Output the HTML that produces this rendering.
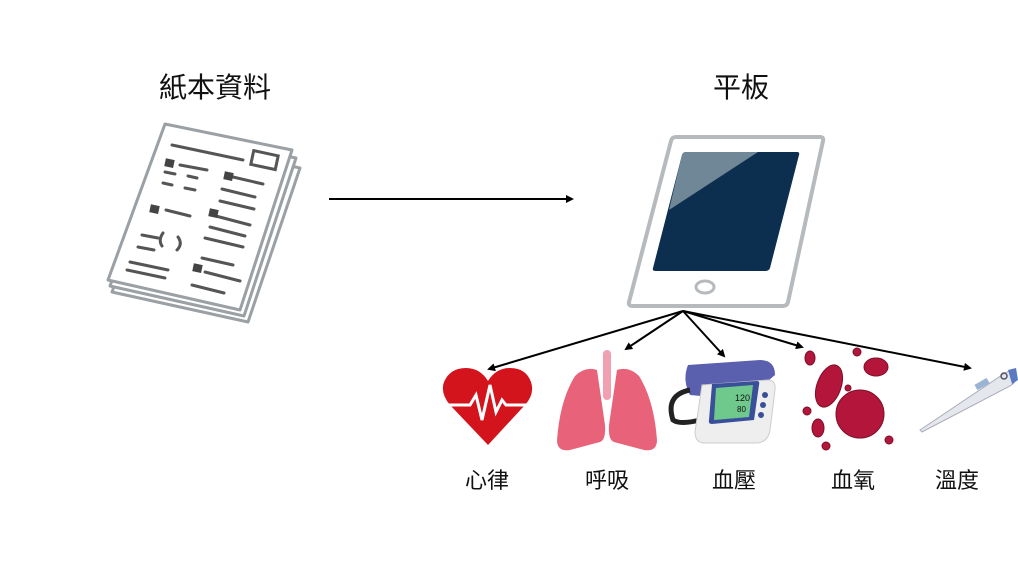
<!DOCTYPE html>
<html><head><meta charset="utf-8"><style>
html,body{margin:0;padding:0;background:#fff;width:1018px;height:573px;overflow:hidden}
svg text{font-family:"Liberation Sans","Noto Sans CJK TC",sans-serif;fill:#111}
</style></head><body>
<svg width="1018" height="573" viewBox="0 0 1018 573" xmlns="http://www.w3.org/2000/svg">
<defs><marker id="ah" markerWidth="8" markerHeight="8" refX="6" refY="4" orient="auto" markerUnits="userSpaceOnUse"><path d="M0,0 L8,4 L0,8 z" fill="#000"/></marker></defs>
<text x="215" y="97" font-size="28" text-anchor="middle">紙本資料</text>
<text x="741" y="97" font-size="28" text-anchor="middle">平板</text>
<line x1="329" y1="199" x2="572" y2="199" stroke="#000" stroke-width="2" marker-end="url(#ah)"/>
<!-- paper -->
<g stroke="#9aa0a4" stroke-width="3" fill="#fff" stroke-linejoin="round">
<path d="M170,140 L300,168 L248,322 L112,292 Z"/>
<path d="M167,132 L296,158 L244,316 L110,286 Z"/>
<path d="M165,124 L292,150 L240,310 L108,280 Z"/>
</g>
<g stroke="#555" stroke-width="3" fill="none" stroke-linecap="round">
<path d="M172,145 L243,160"/><rect x="252" y="153" width="25" height="14" transform="rotate(12 264 160)" stroke="#555"/>
<path d="M180,165 L207,170"/><path d="M165,172 L175,174 M188,176 L197,178"/><path d="M163,183 L172,185 M185,188 L195,190"/>
<path d="M233,177 L263,184"/><path d="M222,189 L255,197"/><path d="M220,201 L254,209"/>
<path d="M166,210 L190,216"/><path d="M212,215 L250,225"/><path d="M210,227 L245,236"/><path d="M205,238 L243,247"/>
<path d="M142,235 L158,238 M138,247 L154,250"/><path d="M163,233 Q158,240 162,246 M178,237 Q183,244 177,250"/>
<path d="M130,262 L168,270"/><path d="M127,270 L165,278"/><path d="M202,258 L233,265"/><path d="M205,272 L240,281"/><path d="M192,285 L224,293"/>
</g>
<g fill="#444"><rect x="165" y="159" width="9" height="8" transform="rotate(12 169 163)"/><rect x="224" y="172" width="9" height="8" transform="rotate(12 228 176)"/><rect x="150" y="205" width="9" height="8" transform="rotate(12 154 209)"/><rect x="209" y="209" width="9" height="8" transform="rotate(12 213 213)"/><rect x="193" y="264" width="9" height="8" transform="rotate(12 197 268)"/></g>
<!-- tablet -->
<path d="M676,137 L820,137 Q824,137 823,141 L788,302 Q787,306 783,306 L633,306 Q628,306 629,302 L671,141 Q672,137 676,137 Z" fill="#fff" stroke="#b6babd" stroke-width="4"/>
<path d="M686,152 L797,152 Q800,152 799,155 L770,268 Q769,271 765,271 L656,271 Q652,271 653,268 L682,155 Q683,152 686,152 Z" fill="#0d2f4f"/>
<path d="M686,152 L758,152 L669,210 L682,155 Q683,152 686,152 Z" fill="#6f8797"/>
<ellipse cx="705" cy="287" rx="9" ry="6" fill="none" stroke="#b6babd" stroke-width="3"/>
<!-- arrows -->
<g stroke="#000" stroke-width="2" marker-end="url(#ah)">
<line x1="683" y1="311" x2="489" y2="369"/>
<line x1="683" y1="311" x2="626" y2="349"/>
<line x1="683" y1="311" x2="724" y2="356"/>
<line x1="683" y1="311" x2="802" y2="347"/>
<line x1="683" y1="311" x2="970" y2="368"/>
</g>
<!-- heart -->
<path d="M488,445 L450,405 Q440,393 444,382 Q450,368 466,368 Q480,368 488,381 Q496,368 510,368 Q526,368 531,382 Q535,394 525,405 Z" fill="#d3141c"/>
<path d="M444,405 L470,405 L476,395 L482,420 L490,385 L496,412 L502,400 L506,405 L532,405" fill="none" stroke="#fff" stroke-width="3"/>
<!-- lungs -->
<rect x="603" y="350" width="8" height="50" rx="4" fill="#f0a0b0"/>
<path d="M597,370 Q585,366 575,376 Q560,400 557,440 Q557,452 570,450 L600,442 Q606,440 605,425 Z" fill="#e8637a"/>
<path d="M617,370 Q629,366 639,376 Q654,400 657,440 Q657,452 644,450 L614,442 Q608,440 609,425 Z" fill="#e8637a"/>
<!-- BP monitor -->
<path d="M688,365 L760,360 Q775,360 775,375 L745,400 L690,395 Q682,380 688,365 Z" fill="#5a5fae"/>
<path d="M690,390 Q665,395 673,420 Q680,425 700,420" fill="none" stroke="#222" stroke-width="5"/>
<path d="M702,385 L768,380 Q776,380 775,390 L770,430 Q768,443 755,443 L705,443 Q695,443 695,432 Z" fill="#eee" stroke="#ccc"/>
<path d="M712,384 L757,381 Q760,381 759,385 L754,420 L712,424 Q708,424 709,420 Z" fill="#3a4f9a"/>
<path d="M716,388 L753,385 L749,417 L714,420 Z" fill="#70c98c"/>
<text x="735" y="401" font-size="9" fill="#222">120</text><text x="737" y="412" font-size="8">80</text>
<circle cx="765" cy="395" r="3" fill="#3a4f9a"/><circle cx="763" cy="405" r="3" fill="#3a4f9a"/><circle cx="761" cy="415" r="3" fill="#3a4f9a"/>
<!-- blood cells -->
<g fill="#b3163a" stroke="#7c0f27" stroke-width="1">
<ellipse cx="829" cy="386" rx="12" ry="22" transform="rotate(20 829 386)"/>
<circle cx="860" cy="414" r="24"/>
<ellipse cx="876" cy="367" rx="12" ry="9"/>
<ellipse cx="810" cy="358" rx="5" ry="7"/><circle cx="857" cy="352" r="4"/><circle cx="848" cy="388" r="3"/>
<ellipse cx="818" cy="428" rx="6" ry="9"/><circle cx="807" cy="411" r="4"/><circle cx="889" cy="440" r="4"/><circle cx="826" cy="446" r="4"/>
</g>
<!-- thermometer -->
<path d="M920,430 L1005,373 Q1014,368 1016,375 Q1018,381 1010,386 L922,432 Z" fill="#e4e8ec" stroke="#aab" stroke-width="1"/>
<rect x="975" y="381" width="14" height="6" fill="#9ab4d6" transform="rotate(-30 982 384)"/>
<circle cx="1004" cy="376" r="3" fill="none" stroke="#556" stroke-width="1.5"/>
<path d="M1008,370 L1016,368 L1018,380 L1012,384 Z" fill="#5b7bc0"/>
<!-- labels -->
<g font-size="22" text-anchor="middle">
<text x="487" y="488">心律</text><text x="607" y="488">呼吸</text><text x="734" y="488">血壓</text><text x="853" y="488">血氧</text><text x="957" y="488">溫度</text>
</g>
</svg>
</body></html>
